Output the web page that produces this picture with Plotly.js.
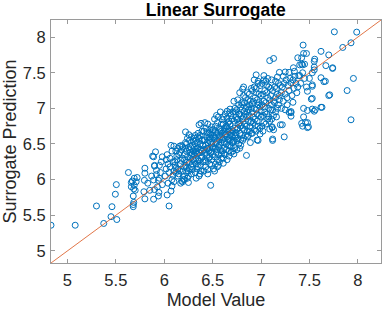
<!DOCTYPE html>
<html>
<head>
<meta charset="utf-8">
<script src="https://cdn.plot.ly/plotly-3.0.1.min.js"></script>
<style>html,body{margin:0;padding:0;background:#fff;}#chart{width:382px;height:310px;}</style>
</head>
<body>
<div id="chart"></div>
<script>
// Model value (x) and surrogate prediction (y)
const modelValue = [
4.83,5.08,5.30,5.46,5.45,5.375,5.51,5.495,5.505,
5.63,5.68,5.68,5.685,5.68,5.685,5.67,5.69,5.66,5.71,5.69,5.72,5.70,5.66,
5.80,5.80,5.795,5.80,5.79,5.85,5.83,
5.89,5.89,5.90,5.90,5.92,5.92,5.95,5.94,5.98,5.94,5.945,5.98,5.89,5.91,5.88,5.90,5.95,5.87,5.96,5.93,5.97,
6.03,6.05,6.07,6.08,6.08,6.09,6.10,6.07,6.10,6.02,6.04,6.06,6.01,6.05,6.03,6.09,6.06,6.08,6.02,6.10,6.04,
6.12,6.14,6.16,6.17,6.19,6.20,6.18,6.21,6.16,6.19,6.18,6.11,6.13,6.15,6.12,6.14,6.17,6.19,6.16,6.18,6.13,6.11,6.20,6.15,6.19,6.14,6.17,6.12,
6.22,6.255,6.30,6.21,6.23,6.25,6.24,6.26,6.28,6.22,6.24,6.27,6.29,6.21,6.23,6.25,6.27,6.29,6.22,6.26,6.28,6.24,6.26,6.28,6.30,6.21,6.23,6.25,6.27,6.29,6.22,6.30,6.24,6.26,6.28,6.25,6.29,6.23,
6.36,6.38,6.345,6.31,6.32,6.34,6.36,6.33,6.35,6.37,6.39,6.31,6.33,6.35,6.37,6.39,6.32,6.34,6.36,6.38,6.40,6.31,6.33,6.35,6.37,6.39,6.32,6.34,6.36,6.38,6.40,6.31,6.33,6.35,6.37,6.39,6.34,6.36,6.38,6.32,6.33,6.37,
6.48,6.41,6.43,6.45,6.47,6.49,6.42,6.44,6.46,6.48,6.50,6.41,6.43,6.45,6.47,6.49,6.42,6.44,6.46,6.48,6.50,6.41,6.43,6.45,6.47,6.49,6.42,6.44,6.46,6.48,6.50,6.43,6.45,6.47,6.49,6.41,6.44,6.46,6.48,6.50,6.42,6.45,6.47,6.49,
6.51,6.53,6.55,6.57,6.59,6.52,6.54,6.56,6.58,6.60,6.51,6.53,6.55,6.57,6.59,6.52,6.54,6.56,6.58,6.60,6.51,6.53,6.55,6.57,6.59,6.52,6.54,6.56,6.58,6.60,6.51,6.53,6.55,6.57,6.59,6.52,6.54,6.56,6.58,6.60,6.53,6.55,6.57,6.59,6.61,6.56,
6.68,6.675,6.61,6.63,6.65,6.67,6.69,6.62,6.64,6.66,6.68,6.70,6.61,6.63,6.65,6.67,6.69,6.62,6.64,6.66,6.68,6.70,6.61,6.63,6.65,6.67,6.69,6.62,6.64,6.66,6.68,6.70,6.63,6.65,6.67,6.69,6.62,6.64,6.66,6.68,6.70,6.65,6.61,6.67,
6.81,6.78,6.71,6.73,6.75,6.77,6.79,6.72,6.74,6.76,6.78,6.80,6.71,6.73,6.75,6.77,6.79,6.72,6.74,6.76,6.78,6.80,6.71,6.73,6.75,6.77,6.79,6.72,6.74,6.76,6.78,6.80,6.73,6.75,6.77,6.79,6.71,6.74,6.76,6.78,6.80,6.75,6.72,
6.85,6.81,6.89,6.82,6.84,6.86,6.88,6.90,6.81,6.83,6.85,6.87,6.89,6.82,6.84,6.86,6.88,6.90,6.81,6.83,6.85,6.87,6.89,6.82,6.84,6.86,6.88,6.90,6.81,6.83,6.85,6.87,6.89,6.84,6.86,6.88,6.83,6.87,6.90,6.82,
6.95,6.96,6.97,6.91,6.93,6.95,6.97,6.99,6.92,6.94,6.96,6.98,7.00,6.91,6.93,6.95,6.97,6.99,6.92,6.94,6.96,6.98,7.00,6.91,6.93,6.95,6.97,6.99,6.92,6.94,6.96,6.98,7.00,6.93,6.97,6.99,6.95,6.91,
7.01,7.03,7.05,7.07,7.09,7.02,7.04,7.06,7.08,7.10,7.01,7.03,7.05,7.07,7.09,7.02,7.04,7.06,7.08,7.10,7.01,7.03,7.05,7.07,7.04,7.06,7.08,7.02,7.10,7.03,
7.09,7.13,7.12,7.12,7.115,7.13,7.18,7.20,7.19,7.11,7.13,7.15,7.17,7.11,7.13,7.15,7.17,7.19,7.12,7.14,7.16,7.18,7.20,7.11,7.15,7.17,7.14,7.16,7.19,7.12,7.09,7.115,
7.22,7.24,7.25,7.29,7.31,7.29,7.31,7.31,7.21,7.23,7.25,7.27,7.29,7.22,7.24,7.26,7.28,7.30,7.21,7.23,7.27,7.25,
7.335,7.345,7.33,7.38,7.40,7.39,7.40,7.32,7.34,7.36,7.38,7.33,7.35,7.37,7.31,
7.435,7.44,7.47,7.42,7.43,7.45,7.42,7.48,7.44,7.48,7.44,7.46,7.48,7.43,7.42,7.49,7.48,7.41,7.45,7.43,7.47,
7.555,7.55,7.55,7.53,7.55,7.50,7.53,7.53,7.52,7.53,7.53,7.56,7.55,
7.62,7.70,7.67,7.74,7.74,7.62,7.665,7.65,7.71,7.70,7.62,7.63,7.758,7.989,7.93,7.845,7.955,7.89,7.93
];
const surrogatePrediction = [
5.36,5.36,5.63,5.62,5.48,5.385,5.44,5.795,5.93,
6.10,5.65,5.62,5.68,5.77,5.87,5.98,6.02,5.96,5.97,5.92,6.03,5.85,5.90,
6.16,6.09,5.99,5.73,5.83,5.85,5.95,
5.995,5.725,5.86,6.19,6.13,6.07,6.02,5.99,5.93,5.77,5.82,6.32,6.32,6.39,6.33,6.20,6.20,6.05,6.10,5.90,6.25,
5.785,5.63,5.84,5.91,6.00,6.06,6.12,6.48,6.47,6.15,6.22,6.30,6.05,6.10,6.35,6.25,6.18,6.40,6.28,5.97,5.95,
6.10,6.15,6.13,5.95,5.97,6.00,5.98,6.00,6.47,6.46,6.48,6.20,6.28,6.35,6.40,6.05,6.22,6.30,6.38,6.42,6.33,6.25,6.18,6.08,6.12,6.44,6.27,6.16,
6.67,6.63,6.54,6.05,6.10,5.96,6.02,6.15,6.08,6.20,6.25,6.30,6.22,6.35,6.40,6.45,6.38,6.48,6.52,6.55,6.60,6.32,6.42,6.18,6.28,6.28,6.50,6.12,6.46,6.36,6.44,6.40,6.58,6.24,6.34,6.05,6.14,6.16,
6.77,6.79,6.60,6.58,6.10,6.15,6.05,6.22,6.28,6.20,6.32,6.35,6.40,6.45,6.50,6.55,6.62,6.52,6.38,6.42,6.48,6.45,6.30,6.18,6.62,6.68,6.50,6.36,6.26,6.12,6.25,6.26,6.55,6.65,6.42,6.40,6.44,6.58,6.30,6.38,6.02,6.08,
5.92,6.12,6.18,6.14,6.22,6.20,6.28,6.34,6.30,6.38,6.35,6.42,6.48,6.52,6.45,6.50,6.56,6.60,6.65,6.58,6.62,6.68,6.72,6.78,6.70,6.74,6.38,6.44,6.40,6.52,6.46,6.25,6.08,6.32,6.28,6.55,6.66,6.55,6.64,6.70,6.80,6.43,6.60,6.40,
6.15,6.22,6.18,6.25,6.30,6.32,6.38,6.35,6.42,6.40,6.45,6.50,6.55,6.48,6.52,6.58,6.62,6.66,6.60,6.65,6.70,6.75,6.80,6.72,6.78,6.85,6.90,6.88,6.95,6.84,6.60,6.44,6.28,6.62,6.68,6.12,6.52,6.46,6.70,6.56,6.66,6.42,6.56,6.36,6.23,6.20,
6.99,6.94,6.30,6.35,6.28,6.40,6.38,6.45,6.50,6.48,6.55,6.52,6.58,6.62,6.60,6.68,6.65,6.72,6.75,6.80,6.78,6.85,6.88,6.92,6.86,6.82,6.90,6.52,6.42,6.56,6.62,6.70,6.68,6.74,6.58,6.46,6.36,6.64,6.70,6.48,6.60,6.96,6.78,6.33,
7.27,7.22,6.40,6.45,6.42,6.50,6.48,6.55,6.60,6.58,6.65,6.62,6.68,6.72,6.70,6.78,6.75,6.82,6.88,6.85,6.92,6.90,6.95,7.00,6.98,7.05,7.02,7.10,6.66,6.72,6.80,6.76,6.62,6.84,6.92,6.56,6.52,6.95,7.12,6.44,7.08,6.55,6.36,
6.34,6.55,6.52,6.58,6.62,6.60,6.68,6.65,6.72,6.78,6.75,6.82,6.80,6.88,6.92,6.95,6.90,7.00,7.05,7.08,7.02,7.12,7.10,7.18,7.15,7.22,7.20,7.28,6.85,6.70,6.88,6.98,6.74,7.00,6.68,7.05,6.96,6.62,6.82,7.30,
7.47,6.555,6.55,6.65,6.70,6.68,6.75,6.72,6.80,6.85,6.82,6.90,6.88,6.95,7.00,6.98,7.05,7.02,7.10,7.15,7.12,7.20,7.18,7.25,7.30,7.28,7.35,7.32,6.88,6.76,6.92,7.08,6.96,7.40,7.38,6.64,7.22,7.06,
6.75,6.80,6.78,6.85,6.82,6.90,6.95,6.92,7.00,6.98,7.05,7.10,7.08,7.15,7.12,7.20,7.25,7.22,7.30,7.28,7.35,7.40,7.38,7.42,7.02,7.32,6.88,6.68,7.18,7.46,
7.67,7.70,6.55,6.57,6.73,6.70,7.05,6.77,7.505,6.85,6.90,6.95,7.00,7.05,7.10,7.15,7.20,7.18,7.25,7.30,7.28,7.35,7.32,7.40,7.38,7.44,7.08,6.88,7.12,6.98,6.71,6.74,
6.77,6.60,7.51,7.505,6.955,6.945,6.89,6.94,7.00,7.10,7.20,7.15,7.25,7.30,7.35,7.40,7.32,7.42,7.22,7.45,7.05,6.98,
7.57,7.52,7.085,7.71,7.61,7.46,7.46,7.18,7.28,7.35,7.30,7.40,7.45,7.22,7.36,
7.888,7.77,7.77,7.71,7.61,7.62,7.62,7.24,7.00,6.97,6.88,6.80,6.73,6.75,6.79,6.74,6.80,7.35,7.42,7.50,7.30,
7.69,7.66,7.58,7.50,7.54,7.42,7.33,7.31,7.13,7.14,6.99,6.98,6.96,
7.80,7.75,7.60,7.57,7.56,7.43,7.38,7.375,7.19,7.18,7.015,7.015,8.074,8.07,7.92,7.855,7.42,7.25,6.84
];
const axisRange = [4.83, 8.24];
const tickValues = [5, 5.5, 6, 6.5, 7, 7.5, 8];
const tickLabels = ['5', '5.5', '6', '6.5', '7', '7.5', '8'];

const FONT = 'Liberation Sans, Arial, Helvetica, sans-serif';
const axisCommon = {
  range: axisRange,
  tickvals: tickValues,
  ticktext: tickLabels,
  ticks: 'inside',
  ticklen: 4,
  tickwidth: 1,
  tickcolor: '#9a9a9a',
  showline: true,
  linecolor: '#9a9a9a',
  linewidth: 1,
  mirror: 'ticks',
  showgrid: false,
  zeroline: false,
  tickfont: {family: FONT, size: 16.5, color: '#262626'}
};

const traces = [
  {
    x: modelValue, y: surrogatePrediction,
    type: 'scatter', mode: 'markers',
    marker: {symbol: 'circle-open', size: 6, color: '#0072BD', line: {width: 1, color: '#0072BD'}},
    hoverinfo: 'skip'
  },
  {
    x: axisRange, y: axisRange,
    type: 'scatter', mode: 'lines',
    line: {color: '#D95319', width: 0.8},
    hoverinfo: 'skip'
  }
];

const layout = {
  width: 382, height: 310,
  margin: {l: 51, r: 1, t: 20, b: 47},
  paper_bgcolor: '#ffffff', plot_bgcolor: '#ffffff',
  showlegend: false,
  title: {text: '<b>Linear Surrogate</b>', font: {family: FONT, size: 17.5, color: '#000'}, x: 0.565, xanchor: 'center', y: 0.967, yanchor: 'middle'},
  xaxis: Object.assign({}, axisCommon, {
    ticklabelstandoff: 2,
    title: {text: 'Model Value', font: {family: FONT, size: 18, color: '#262626'}, standoff: 5}
  }),
  yaxis: Object.assign({}, axisCommon, {
    ticklabelstandoff: 1,
    title: {text: 'Surrogate Prediction', font: {family: FONT, size: 18, color: '#262626'}, standoff: 2}
  })
};

Plotly.newPlot('chart', traces, layout, {staticPlot: true, displayModeBar: false});
</script>
</body>
</html>
